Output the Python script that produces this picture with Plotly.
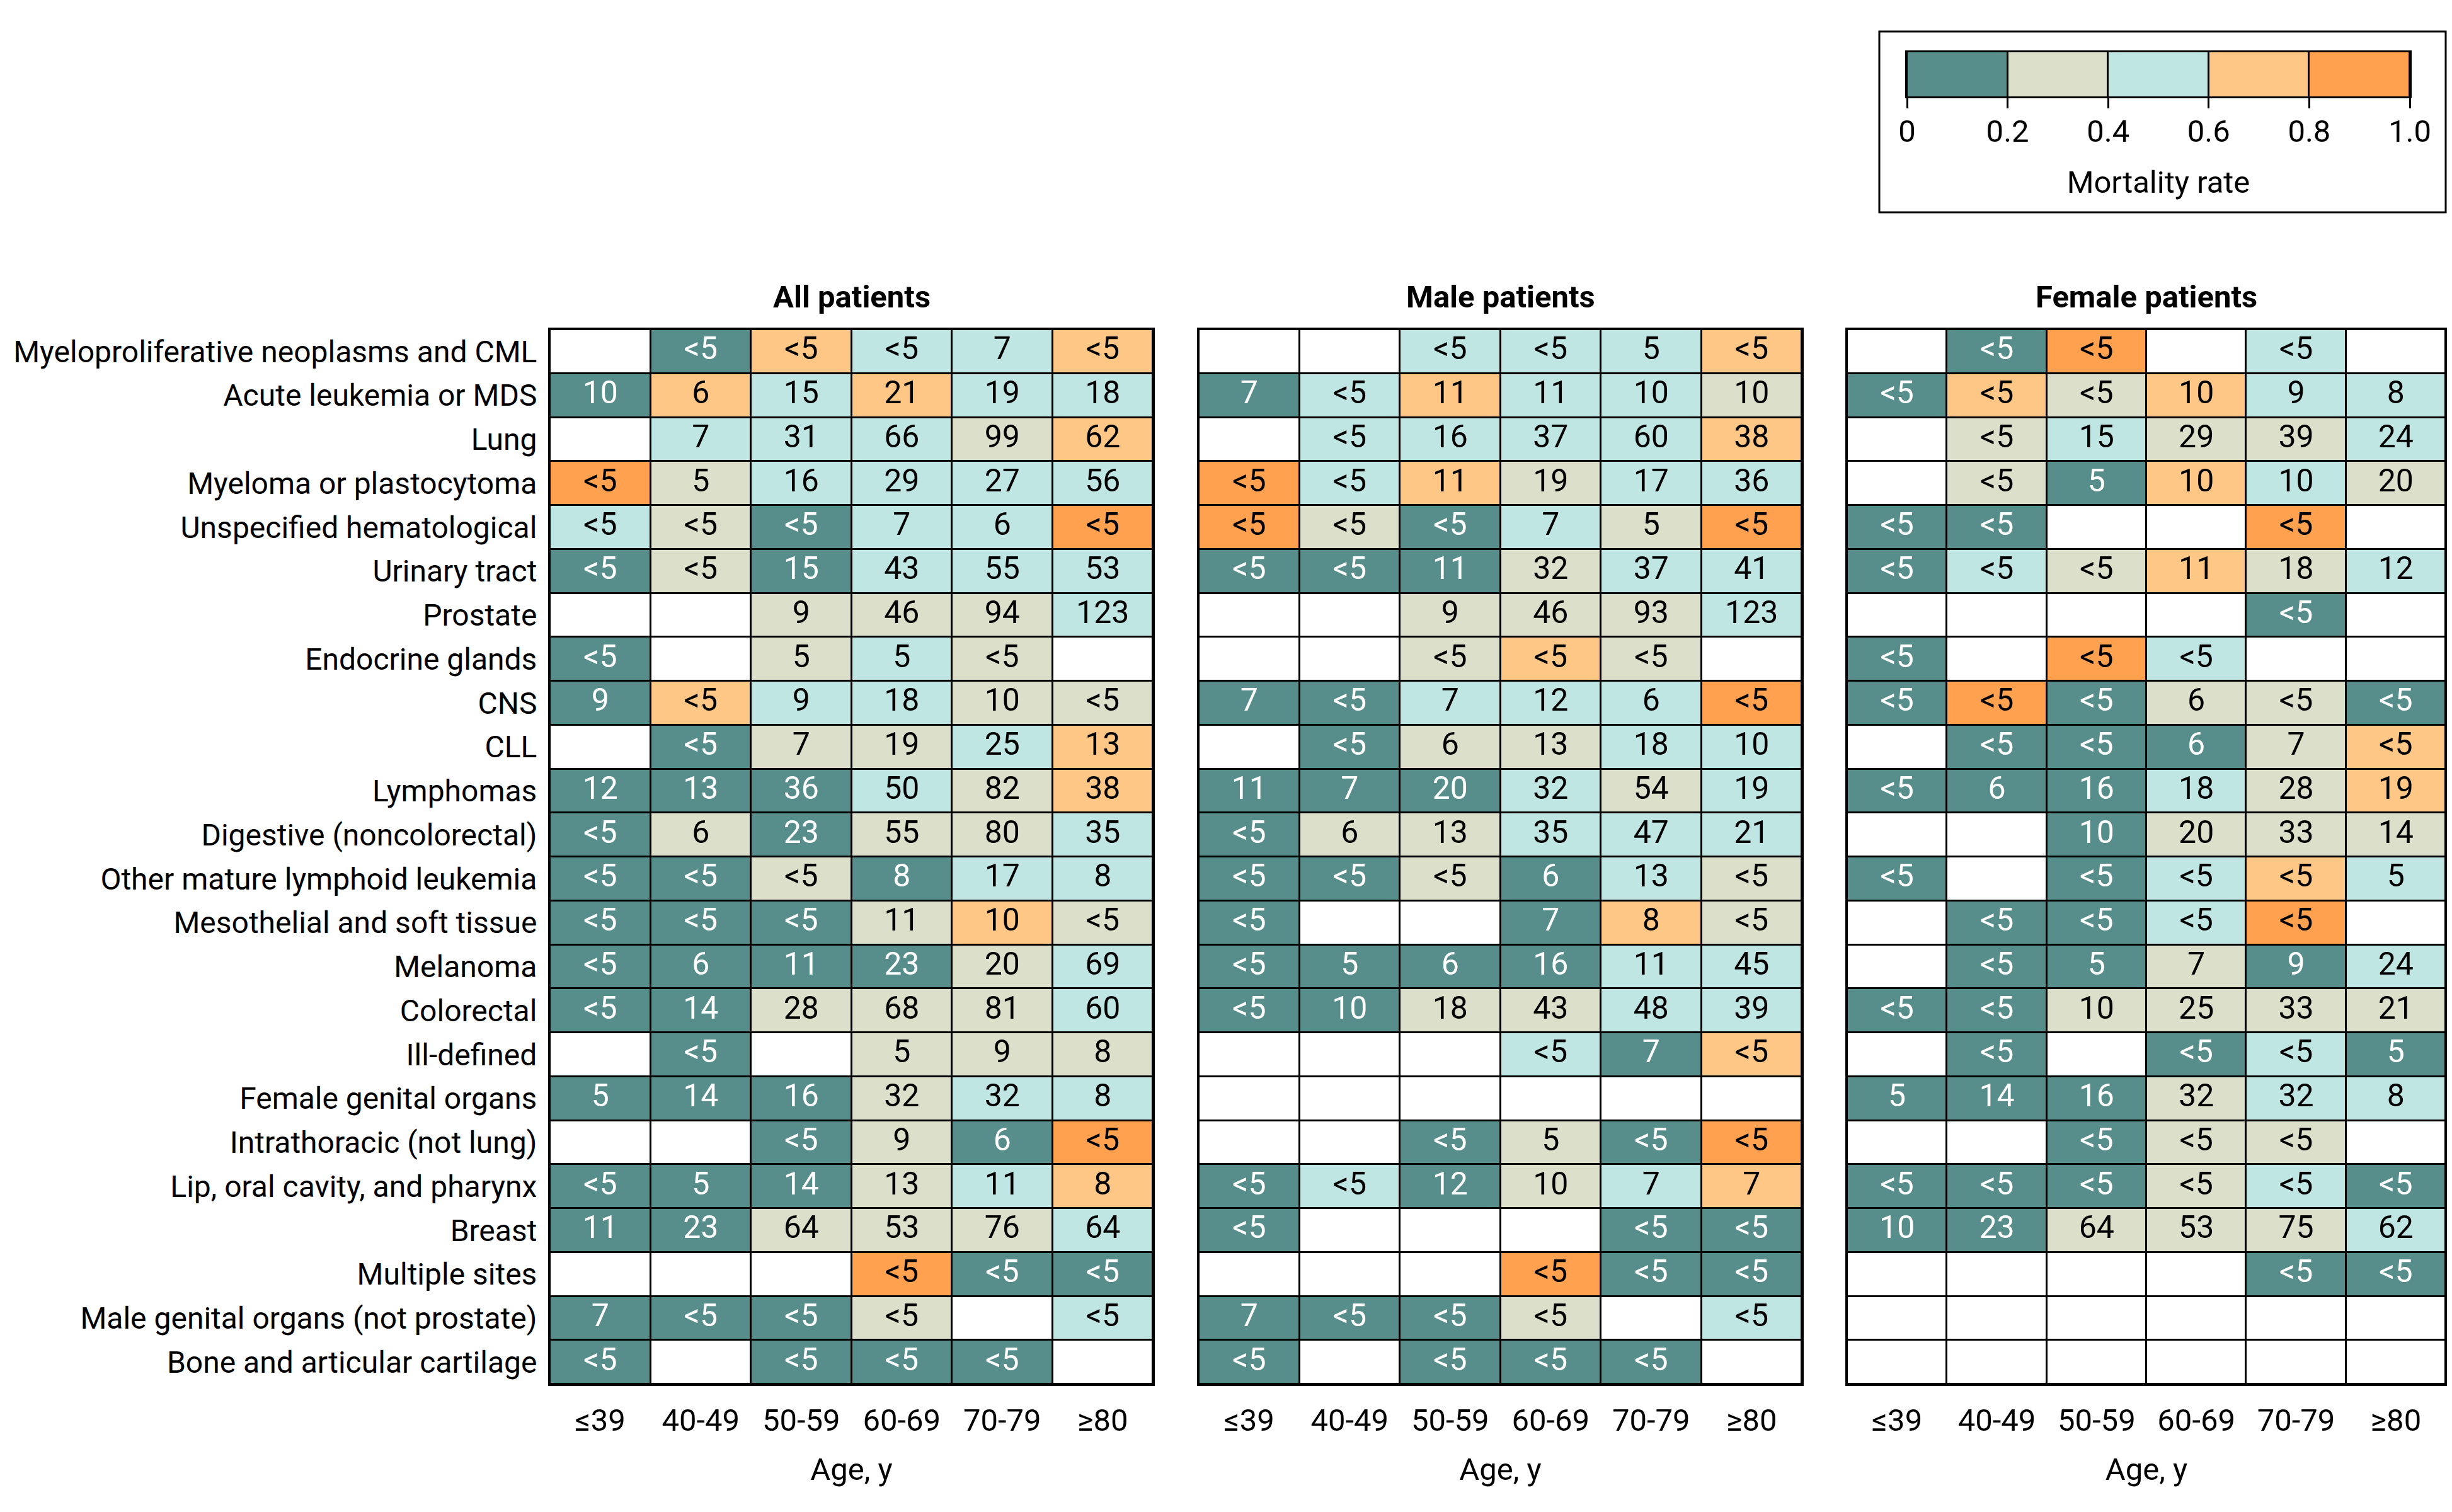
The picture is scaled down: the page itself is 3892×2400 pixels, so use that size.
import plotly.graph_objects as go

N = None

ages = ["≤39", "40-49", "50-59", "60-69", "70-79", "≥80"]
cancers = [
    "Myeloproliferative neoplasms and CML",
    "Acute leukemia or MDS",
    "Lung",
    "Myeloma or plastocytoma",
    "Unspecified hematological",
    "Urinary tract",
    "Prostate",
    "Endocrine glands",
    "CNS",
    "CLL",
    "Lymphomas",
    "Digestive (noncolorectal)",
    "Other mature lymphoid leukemia",
    "Mesothelial and soft tissue",
    "Melanoma",
    "Colorectal",
    "Ill-defined",
    "Female genital organs",
    "Intrathoracic (not lung)",
    "Lip, oral cavity, and pharynx",
    "Breast",
    "Multiple sites",
    "Male genital organs (not prostate)",
    "Bone and articular cartilage",
]
panel_titles = ["All patients", "Male patients", "Female patients"]

# mortality rate (mid value of the 0.2-wide class)
all_rate = [
    [N, .1, .7, .5, .5, .7],
    [.1, .7, .5, .7, .5, .5],
    [N, .5, .5, .5, .3, .7],
    [.9, .3, .5, .5, .5, .5],
    [.5, .3, .1, .5, .5, .9],
    [.1, .3, .1, .5, .5, .5],
    [N, N, .3, .3, .3, .5],
    [.1, N, .3, .5, .3, N],
    [.1, .7, .5, .5, .3, .3],
    [N, .1, .3, .3, .5, .7],
    [.1, .1, .1, .5, .3, .7],
    [.1, .3, .1, .3, .3, .5],
    [.1, .1, .3, .1, .5, .5],
    [.1, .1, .1, .3, .7, .3],
    [.1, .1, .1, .1, .3, .5],
    [.1, .1, .3, .3, .3, .5],
    [N, .1, N, .3, .3, .3],
    [.1, .1, .1, .3, .5, .5],
    [N, N, .1, .3, .1, .9],
    [.1, .1, .1, .3, .5, .7],
    [.1, .1, .3, .3, .3, .5],
    [N, N, N, .9, .1, .1],
    [.1, .1, .1, .3, N, .5],
    [.1, N, .1, .1, .1, N],
]
all_n = [
    ["", "<5", "<5", "<5", "7", "<5"],
    ["10", "6", "15", "21", "19", "18"],
    ["", "7", "31", "66", "99", "62"],
    ["<5", "5", "16", "29", "27", "56"],
    ["<5", "<5", "<5", "7", "6", "<5"],
    ["<5", "<5", "15", "43", "55", "53"],
    ["", "", "9", "46", "94", "123"],
    ["<5", "", "5", "5", "<5", ""],
    ["9", "<5", "9", "18", "10", "<5"],
    ["", "<5", "7", "19", "25", "13"],
    ["12", "13", "36", "50", "82", "38"],
    ["<5", "6", "23", "55", "80", "35"],
    ["<5", "<5", "<5", "8", "17", "8"],
    ["<5", "<5", "<5", "11", "10", "<5"],
    ["<5", "6", "11", "23", "20", "69"],
    ["<5", "14", "28", "68", "81", "60"],
    ["", "<5", "", "5", "9", "8"],
    ["5", "14", "16", "32", "32", "8"],
    ["", "", "<5", "9", "6", "<5"],
    ["<5", "5", "14", "13", "11", "8"],
    ["11", "23", "64", "53", "76", "64"],
    ["", "", "", "<5", "<5", "<5"],
    ["7", "<5", "<5", "<5", "", "<5"],
    ["<5", "", "<5", "<5", "<5", ""],
]

male_rate = [
    [N, N, .5, .5, .5, .7],
    [.1, .5, .7, .5, .5, .3],
    [N, .5, .5, .5, .5, .7],
    [.9, .5, .7, .3, .5, .5],
    [.9, .3, .1, .5, .3, .9],
    [.1, .1, .1, .3, .5, .5],
    [N, N, .3, .3, .3, .5],
    [N, N, .3, .7, .3, N],
    [.1, .1, .5, .5, .5, .9],
    [N, .1, .3, .3, .5, .5],
    [.1, .1, .1, .5, .3, .5],
    [.1, .3, .3, .5, .5, .5],
    [.1, .1, .3, .1, .5, .3],
    [.1, N, N, .1, .7, .3],
    [.1, .1, .1, .1, .5, .5],
    [.1, .1, .3, .3, .5, .5],
    [N, N, N, .5, .1, .7],
    [N, N, N, N, N, N],
    [N, N, .1, .3, .1, .9],
    [.1, .5, .1, .3, .5, .7],
    [.1, N, N, N, .1, .1],
    [N, N, N, .9, .1, .1],
    [.1, .1, .1, .3, N, .5],
    [.1, N, .1, .1, .1, N],
]
male_n = [
    ["", "", "<5", "<5", "5", "<5"],
    ["7", "<5", "11", "11", "10", "10"],
    ["", "<5", "16", "37", "60", "38"],
    ["<5", "<5", "11", "19", "17", "36"],
    ["<5", "<5", "<5", "7", "5", "<5"],
    ["<5", "<5", "11", "32", "37", "41"],
    ["", "", "9", "46", "93", "123"],
    ["", "", "<5", "<5", "<5", ""],
    ["7", "<5", "7", "12", "6", "<5"],
    ["", "<5", "6", "13", "18", "10"],
    ["11", "7", "20", "32", "54", "19"],
    ["<5", "6", "13", "35", "47", "21"],
    ["<5", "<5", "<5", "6", "13", "<5"],
    ["<5", "", "", "7", "8", "<5"],
    ["<5", "5", "6", "16", "11", "45"],
    ["<5", "10", "18", "43", "48", "39"],
    ["", "", "", "<5", "7", "<5"],
    ["", "", "", "", "", ""],
    ["", "", "<5", "5", "<5", "<5"],
    ["<5", "<5", "12", "10", "7", "7"],
    ["<5", "", "", "", "<5", "<5"],
    ["", "", "", "<5", "<5", "<5"],
    ["7", "<5", "<5", "<5", "", "<5"],
    ["<5", "", "<5", "<5", "<5", ""],
]

female_rate = [
    [N, .1, .9, N, .5, N],
    [.1, .7, .3, .7, .5, .5],
    [N, .3, .5, .3, .3, .5],
    [N, .3, .1, .7, .5, .3],
    [.1, .1, N, N, .9, N],
    [.1, .5, .3, .7, .3, .5],
    [N, N, N, N, .1, N],
    [.1, N, .9, .5, N, N],
    [.1, .9, .1, .3, .3, .1],
    [N, .1, .1, .1, .3, .7],
    [.1, .1, .1, .5, .3, .7],
    [N, N, .1, .3, .3, .3],
    [.1, N, .1, .5, .7, .5],
    [N, .1, .1, .5, .9, N],
    [N, .1, .1, .3, .1, .5],
    [.1, .1, .3, .3, .3, .3],
    [N, .1, N, .1, .5, .1],
    [.1, .1, .1, .3, .5, .5],
    [N, N, .1, .3, .3, N],
    [.1, .1, .1, .3, .5, .1],
    [.1, .1, .3, .3, .3, .5],
    [N, N, N, N, .1, .1],
    [N, N, N, N, N, N],
    [N, N, N, N, N, N],
]
female_n = [
    ["", "<5", "<5", "", "<5", ""],
    ["<5", "<5", "<5", "10", "9", "8"],
    ["", "<5", "15", "29", "39", "24"],
    ["", "<5", "5", "10", "10", "20"],
    ["<5", "<5", "", "", "<5", ""],
    ["<5", "<5", "<5", "11", "18", "12"],
    ["", "", "", "", "<5", ""],
    ["<5", "", "<5", "<5", "", ""],
    ["<5", "<5", "<5", "6", "<5", "<5"],
    ["", "<5", "<5", "6", "7", "<5"],
    ["<5", "6", "16", "18", "28", "19"],
    ["", "", "10", "20", "33", "14"],
    ["<5", "", "<5", "<5", "<5", "5"],
    ["", "<5", "<5", "<5", "<5", ""],
    ["", "<5", "5", "7", "9", "24"],
    ["<5", "<5", "10", "25", "33", "21"],
    ["", "<5", "", "<5", "<5", "5"],
    ["5", "14", "16", "32", "32", "8"],
    ["", "", "<5", "<5", "<5", ""],
    ["<5", "<5", "<5", "<5", "<5", "<5"],
    ["10", "23", "64", "53", "75", "62"],
    ["", "", "", "", "<5", "<5"],
    ["", "", "", "", "", ""],
    ["", "", "", "", "", ""],
]

legend_mid = [0.1, 0.3, 0.5, 0.7, 0.9]
legend_ticks = [0, 0.2, 0.4, 0.6, 0.8, 1.0]
legend_ticktext = ["0", "0.2", "0.4", "0.6", "0.8", "1.0"]

TEAL = "#578E8B"
BEIGE = "#DCDFC9"
CYAN = "#C0E6E4"
LORANGE = "#FFC785"
ORANGE = "#FFA14F"
scale = [
    [0, TEAL], [0.2, TEAL], [0.2, BEIGE], [0.4, BEIGE], [0.4, CYAN],
    [0.6, CYAN], [0.6, LORANGE], [0.8, LORANGE], [0.8, ORANGE], [1, ORANGE],
]

FONT = "Roboto"
FS = 49
W, H = 3892, 2400
PW, PH = W - 16, H - 20  # page has an 8px body margin


def px(x):
    return min(max((x - 8) / PW, 0), 1)


def py(y):
    return min(max(1 - (y - 8) / PH, 0), 1)


panels = [(all_rate, all_n), (male_rate, male_n), (female_rate, female_n)]
x_domains = [(px(873), px(1830)), (px(1903), px(2860)), (px(2932), px(3882))]
y_domain = (py(2197), py(523))

fig = go.Figure()

for i, (rate, counts) in enumerate(panels):
    xa = "x" if i == 0 else f"x{i + 1}"
    ya = "y" if i == 0 else f"y{i + 1}"

    # white base so empty cells stay white between the black gaps
    fig.add_trace(go.Heatmap(
        x=ages, y=cancers, z=[[0] * len(ages) for _ in cancers],
        colorscale=[[0, "white"], [1, "white"]], showscale=False,
        xgap=3, ygap=3, hoverinfo="skip", xaxis=xa, yaxis=ya,
    ))
    fig.add_trace(go.Heatmap(
        x=ages, y=cancers, z=rate, colorscale=scale, zmin=0, zmax=1,
        showscale=False, xgap=3, ygap=3, hoverongaps=False,
        xaxis=xa, yaxis=ya,
    ))

    tx, ty, tt, tc = [], [], [], []
    for r, cancer in enumerate(cancers):
        for c, age in enumerate(ages):
            if counts[r][c]:
                tx.append(age)
                ty.append(cancer)
                tt.append(counts[r][c])
                tc.append("white" if rate[r][c] is not None and rate[r][c] < 0.2 else "black")
    fig.add_trace(go.Scatter(
        x=tx, y=ty, text=tt, mode="text",
        textfont=dict(family=FONT, size=50, color=tc),
        showlegend=False, hoverinfo="skip", xaxis=xa, yaxis=ya,
    ))

    xkey = "xaxis" if i == 0 else f"xaxis{i + 1}"
    ykey = "yaxis" if i == 0 else f"yaxis{i + 1}"
    fig.layout[xkey] = dict(
        domain=x_domains[i], anchor=ya, type="category",
        categoryorder="array", categoryarray=ages,
        range=[-0.5, len(ages) - 0.5], automargin=False,
        showline=True, mirror=True, linecolor="black", linewidth=3,
        showgrid=False, zeroline=False, ticks="", ticklabelstandoff=12,
        tickfont=dict(family=FONT, size=FS, color="black"),
        title=dict(text="Age, y", standoff=33,
                   font=dict(family=FONT, size=FS, color="black")),
    )
    fig.layout[ykey] = dict(
        domain=y_domain, anchor=xa, type="category",
        categoryorder="array", categoryarray=cancers,
        range=[len(cancers) - 0.5, -0.5], automargin=False,
        showline=True, mirror=True, linecolor="black", linewidth=3,
        showgrid=False, zeroline=False, ticks="", ticklabelstandoff=8,
        showticklabels=(i == 0),
        tickfont=dict(family=FONT, size=48, color="black"),
    )
    fig.add_annotation(
        text=f"<b>{panel_titles[i]}</b>", xref="paper", yref="paper",
        x=(x_domains[i][0] + x_domains[i][1]) / 2, y=py(472),
        xanchor="center", yanchor="middle", showarrow=False,
        font=dict(family=FONT, size=FS, color="black"),
    )

# colour key
fig.add_trace(go.Heatmap(
    x=legend_mid, y=[0], z=[legend_mid], colorscale=scale, zmin=0, zmax=1,
    showscale=False, xgap=3, ygap=0, hoverinfo="skip",
    xaxis="x4", yaxis="y4",
))
fig.update_layout(
    xaxis4=dict(
        domain=(px(3027), px(3825)), anchor="y4", range=[0, 1],
        tickvals=legend_ticks, ticktext=legend_ticktext, automargin=False,
        ticks="outside", ticklen=16, tickwidth=3, tickcolor="black",
        ticklabelstandoff=-6,
        showline=True, mirror=True, linecolor="black", linewidth=3,
        showgrid=False, zeroline=False,
        tickfont=dict(family=FONT, size=FS, color="black"),
        title=dict(text="Mortality rate", standoff=36,
                   font=dict(family=FONT, size=FS, color="black")),
    ),
    yaxis4=dict(
        domain=(py(153), py(83)), anchor="x4", range=[-0.5, 0.5],
        showticklabels=False, showgrid=False, zeroline=False, automargin=False,
        showline=True, mirror=True, linecolor="black", linewidth=3, ticks="",
    ),
)
fig.add_shape(
    type="rect", xref="paper", yref="paper",
    x0=px(2983), x1=px(3882), y0=py(337), y1=py(50),
    line=dict(color="black", width=3), fillcolor="rgba(0,0,0,0)", layer="below",
)

fig.update_layout(
    width=PW, height=PH,
    margin=dict(l=0, r=0, t=0, b=0, autoexpand=False),
    paper_bgcolor="white", plot_bgcolor="black",
    showlegend=False,
    font=dict(family=FONT, size=FS, color="black"),
)

fig.write_html("out.html")
